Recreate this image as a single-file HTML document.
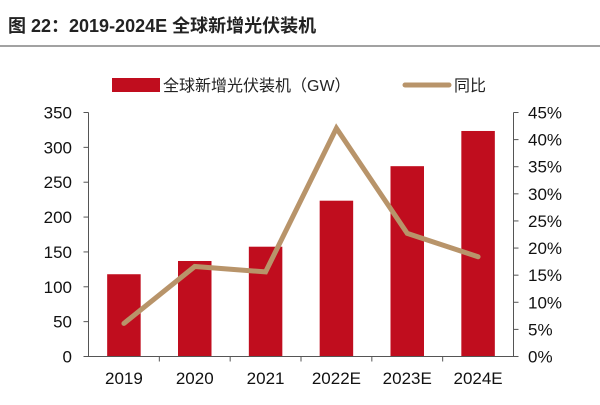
<!DOCTYPE html>
<html><head><meta charset="utf-8"><style>
body{margin:0;background:#fff;width:600px;height:400px;overflow:hidden;font-family:"Liberation Sans","Noto Sans CJK SC",sans-serif}
</style></head><body>
<svg width="600" height="400" id="c">
<text x="8" y="32" font-size="18" font-weight="bold" fill="#222">图 22：2019-2024E 全球新增光伏装机</text>
<line x1="0" y1="46" x2="600" y2="46" stroke="#444" stroke-width="1"/>
<g>
<rect x="112" y="78" width="48" height="14" fill="#c00d1e"/>
<text x="163" y="91" font-size="16" fill="#222">全球新增光伏装机（GW）</text>
<line x1="405" y1="85" x2="449" y2="85" stroke="#b8946a" stroke-width="5" stroke-linecap="round"/>
<text x="454" y="91" font-size="16" fill="#222">同比</text>
</g>
<g id="plot"></g>
</svg>
<script>
const categories=["2019","2020","2021","2022E","2023E","2024E"];
const capacity=[118,137,157.5,223.5,273,323.5];
const yoy=[6.1,16.6,15.6,42.1,22.7,18.4];
const leftTicks=[0,50,100,150,200,250,300,350];
const rightTicks=[0,5,10,15,20,25,30,35,40,45];
const L=88.5,R=513.5,T=112.5,B=356.5;
const bw=(R-L)/categories.length;
const xc=i=>L+bw*(i+0.5);
const yL=v=>B-(v/350)*(B-T);
const yR=v=>B-(v/45)*(B-T);
const ns="http://www.w3.org/2000/svg";
const g=document.getElementById('plot');
function mk(t,a){const e=document.createElementNS(ns,t);for(const k in a)e.setAttribute(k,a[k]);g.appendChild(e);return e;}
capacity.forEach((v,i)=>{const r=mk('rect',{x:xc(i)-16.75,y:yL(v),width:33.5,height:B-yL(v),fill:'#c00d1e'});

});
let a=mk('line',{x1:L,y1:T,x2:L,y2:B,stroke:'#555'});
a=mk('line',{x1:R,y1:T,x2:R,y2:B,stroke:'#555'});
a=mk('line',{x1:L,y1:B,x2:R,y2:B,stroke:'#555'});
leftTicks.forEach(v=>{mk('line',{x1:L-5,y1:yL(v),x2:L,y2:yL(v),stroke:'#555'});
const t=mk('text',{x:72,y:yL(v)+6,'font-size':17,'text-anchor':'end',fill:'#111'});t.textContent=v;
});
rightTicks.forEach(v=>{mk('line',{x1:R,y1:yR(v),x2:R+5,y2:yR(v),stroke:'#555'});
const t=mk('text',{x:528,y:yR(v)+6,'font-size':17,fill:'#111'});t.textContent=v+'%';
});
categories.forEach((c,i)=>{if(i>0)mk('line',{x1:L+bw*i,y1:B,x2:L+bw*i,y2:B+5,stroke:'#555'});
const t=mk('text',{x:xc(i),y:384,'font-size':17,'text-anchor':'middle',fill:'#111'});t.textContent=c;
});
const p=mk('polyline',{points:yoy.map((v,i)=>xc(i)+','+yR(v)).join(' '),fill:'none',stroke:'#b8946a','stroke-width':5,'stroke-linejoin':'miter','stroke-linecap':'round'});


</script>
</body></html>
